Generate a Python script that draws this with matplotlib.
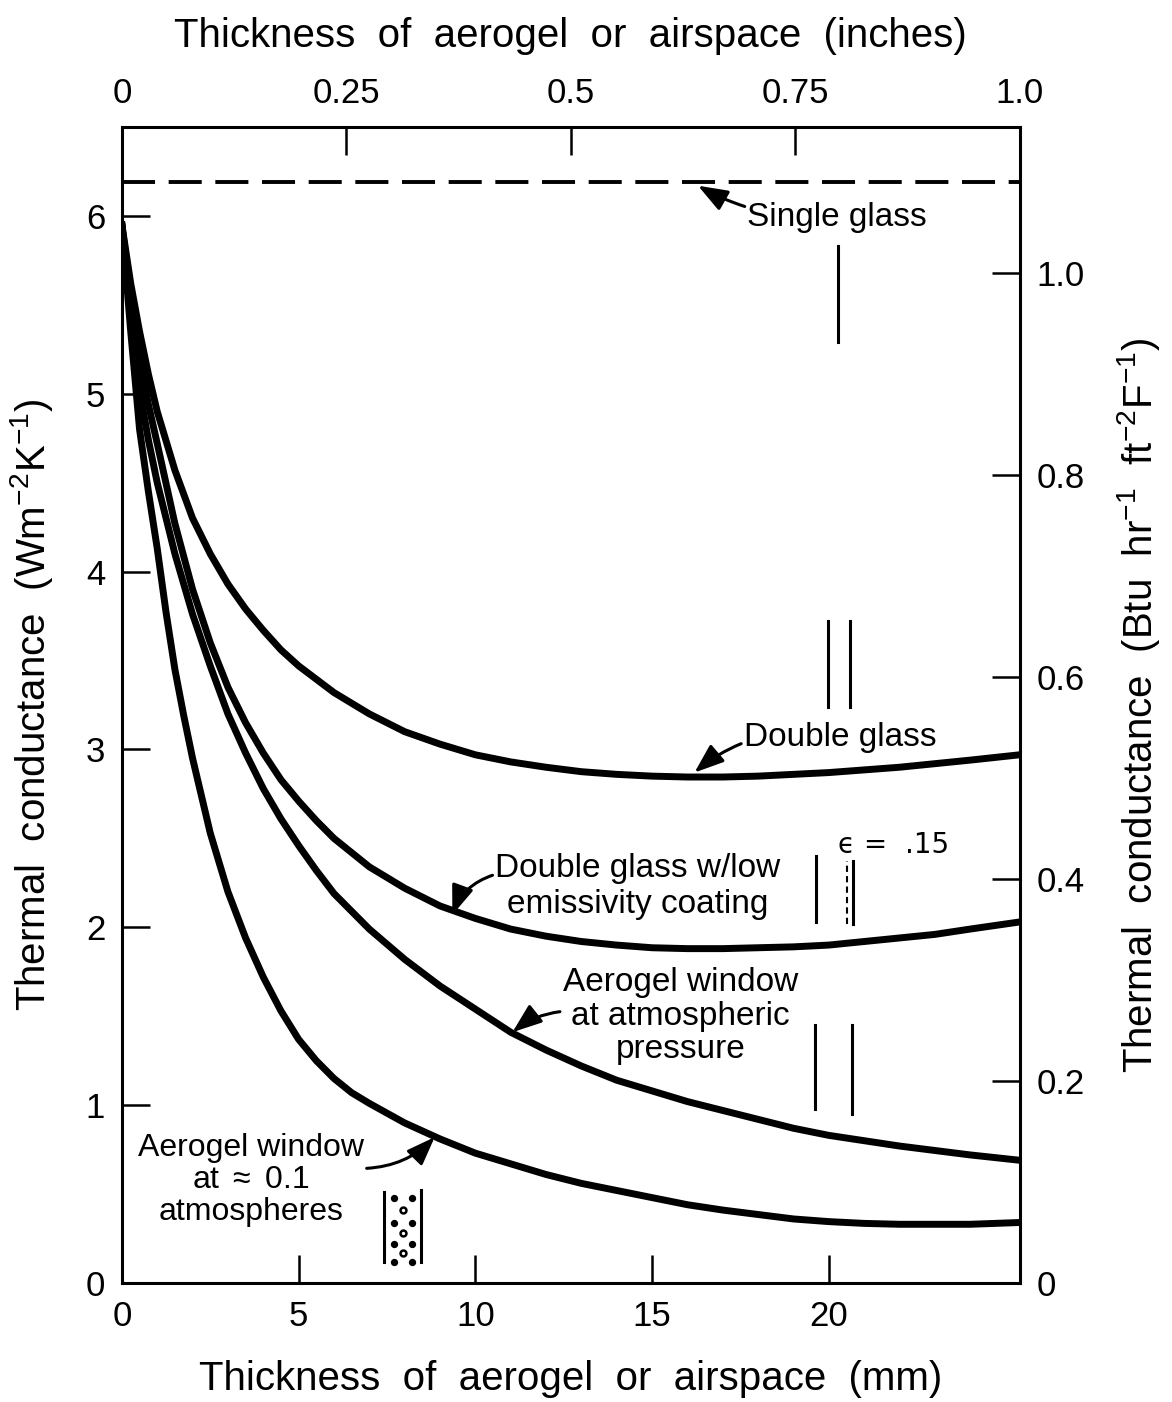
import numpy as np
import matplotlib.pyplot as plt

# thickness (mm) and conductance (W m-2 K-1)
x_dbl = [0, 0.25, 0.5, 0.75, 1, 1.5, 2, 2.5, 3, 3.5, 4, 4.5, 5, 6, 7, 8, 9, 10, 11, 12, 13, 14, 15, 16,
         17, 18, 19, 20, 21, 22, 23, 24, 25.4]
y_dbl = [5.95, 5.62, 5.35, 5.11, 4.9, 4.57, 4.3, 4.1, 3.93, 3.79, 3.67, 3.56, 3.47, 3.32, 3.2, 3.1, 3.03, 2.97,
         2.93, 2.9, 2.875, 2.86, 2.85, 2.845, 2.845, 2.85, 2.86, 2.87, 2.885, 2.9, 2.92, 2.94, 2.97]

x_lowe = [0, 0.25, 0.5, 0.75, 1, 1.5, 2, 2.5, 3, 3.5, 4, 4.5, 5, 5.5, 6, 7, 8, 9, 10, 11, 12, 13, 14, 15,
          16, 17, 18, 19, 20, 21, 22, 23, 24, 25.4]
y_lowe = [5.95, 5.55, 5.2, 4.94, 4.72, 4.27, 3.9, 3.6, 3.35, 3.15, 2.98, 2.83, 2.71, 2.6, 2.5, 2.34, 2.22, 2.12,
          2.05, 1.99, 1.95, 1.92, 1.9, 1.885, 1.88, 1.88, 1.885, 1.89, 1.9, 1.92, 1.94, 1.96, 1.99, 2.03]

x_atm = [0, 0.25, 0.5, 0.75, 1, 1.5, 2, 2.5, 3, 3.5, 4, 4.5, 5, 5.5, 6, 7, 8, 9, 10, 11, 12, 13, 14, 15,
         16, 17, 18, 19, 20, 21, 22, 23, 24, 25.4]
y_atm = [5.95, 5.45, 5.02, 4.74, 4.5, 4.1, 3.76, 3.47, 3.2, 2.98, 2.78, 2.61, 2.46, 2.32, 2.19, 1.99, 1.82, 1.67,
         1.54, 1.41, 1.31, 1.22, 1.14, 1.08, 1.02, 0.97, 0.92, 0.87, 0.83, 0.8, 0.77, 0.745, 0.72, 0.69]

x_low = [0, 0.25, 0.5, 0.75, 1, 1.25, 1.5, 1.75, 2, 2.5, 3, 3.5, 4, 4.5, 5, 5.5, 6, 6.5, 7, 8, 9, 10, 11,
         12, 13, 14, 15, 16, 17, 18, 19, 20, 21, 22, 23, 24, 25.4]
y_low = [5.95, 5.35, 4.8, 4.45, 4.13, 3.77, 3.45, 3.19, 2.95, 2.53, 2.2, 1.94, 1.72, 1.53, 1.37, 1.25, 1.15,
         1.07, 1.01, 0.9, 0.81, 0.73, 0.67, 0.61, 0.56, 0.52, 0.48, 0.44, 0.41, 0.385, 0.36, 0.345, 0.335,
         0.33, 0.33, 0.33, 0.34]

single_glass = 6.19

W_PER_BTU = 5.678
MM_PER_IN = 25.4

plt.rcParams['font.family'] = ['Liberation Sans', 'DejaVu Sans']
plt.rcParams['mathtext.fontset'] = 'custom'
plt.rcParams['mathtext.rm'] = 'Liberation Sans'
plt.rcParams['mathtext.it'] = 'Liberation Sans'

fig = plt.figure(figsize=(11.72, 14.02), dpi=100)
ax = fig.add_axes([0.104, 0.0849, 0.766, 0.8245])

lw = 5
for xs, ys in [(x_dbl, y_dbl), (x_lowe, y_lowe), (x_atm, y_atm), (x_low, y_low)]:
    ax.plot(xs, ys, 'k', lw=lw, solid_joinstyle='round')
ax.axhline(single_glass, color='k', lw=2.8, dashes=(8.5, 3.5))

ax.set_xlim(0, MM_PER_IN)
ax.set_ylim(0, 6.5)
ax.set_xticks([0, 5, 10, 15, 20])
ax.set_yticks([0, 1, 2, 3, 4, 5, 6])

tick_kw = dict(direction='in', length=20, width=1.8, labelsize=25, pad=12)
ax.tick_params(axis='both', **tick_kw)
for s in ax.spines.values():
    s.set_linewidth(2.2)

top = ax.secondary_xaxis('top', functions=(lambda v: v / MM_PER_IN, lambda v: v * MM_PER_IN))
top.set_xticks([0, 0.25, 0.5, 0.75, 1.0])
top.set_xticklabels(['0', '0.25', '0.5', '0.75', '1.0'])
top.tick_params(**tick_kw)
top.set_xlabel('Thickness  of  aerogel  or  airspace  (inches)', fontsize=29, labelpad=22)

right = ax.secondary_yaxis('right', functions=(lambda v: v / W_PER_BTU, lambda v: v * W_PER_BTU))
right.set_yticks([0, 0.2, 0.4, 0.6, 0.8, 1.0])
right.set_yticklabels(['0', '0.2', '0.4', '0.6', '0.8', '1.0'])
right.tick_params(**tick_kw)
right.set_ylabel('Thermal  conductance  (Btu  hr$^{-1}$  ft$^{-2}$F$^{-1}$)', fontsize=29, labelpad=22)

ax.set_xlabel('Thickness  of  aerogel  or  airspace  (mm)', fontsize=29, labelpad=20)
ax.set_ylabel('Thermal  conductance  (Wm$^{-2}$K$^{-1}$)', fontsize=29, labelpad=22)

# labels with curved arrows
arr = dict(arrowstyle='-|>,head_length=0.75,head_width=0.28', color='k', lw=2.2, shrinkA=0, shrinkB=0)
fs = 24
ax.annotate('Single glass', xy=(16.3, 6.17), xytext=(17.7, 5.99), fontsize=fs, va='center', ha='left',
            arrowprops=dict(arr, connectionstyle='arc3,rad=-0.15'))
ax.annotate('Double glass', xy=(16.2, 2.87), xytext=(17.6, 3.07), fontsize=fs, va='center', ha='left',
            arrowprops=dict(arr, connectionstyle='arc3,rad=0.25'))
ax.annotate('Double glass w/low\nemissivity coating', xy=(9.35, 2.07), xytext=(14.6, 2.23), fontsize=fs,
            va='center', ha='center', linespacing=1.2,
            arrowprops=dict(arr, connectionstyle='arc3,rad=0.25', relpos=(0.0, 0.68)))
ax.annotate('Aerogel window\nat atmospheric\npressure', xy=(11.05, 1.41), xytext=(15.8, 1.5), fontsize=fs,
            va='center', ha='center', linespacing=1.1,
            arrowprops=dict(arr, connectionstyle='arc3,rad=0.2', relpos=(0.08, 0.55)))
ax.annotate('Aerogel window\nat $\\approx$ 0.1\natmospheres', xy=(8.85, 0.82), xytext=(3.65, 0.58), fontsize=23,
            va='center', ha='center', linespacing=1.1,
            arrowprops=dict(arr, connectionstyle='arc3,rad=0.2', relpos=(1.0, 0.62)))
ax.text(20.25, 2.46, '\u03f5 =  .15', fontsize=20, va='center', ha='left',
        family=['DejaVu Sans', 'Liberation Sans'])

# window cross-section glyphs
gl = dict(color='k', lw=2.2)
ax.plot([20.25, 20.25], [5.29, 5.83], **gl)
ax.plot([19.97, 19.97], [3.24, 3.72], **gl)
ax.plot([20.6, 20.6], [3.24, 3.72], **gl)
ax.plot([19.65, 19.65], [2.03, 2.40], **gl)
ax.plot([20.52, 20.52], [2.02, 2.37], color='k', lw=1.5, dashes=(3, 2))
ax.plot([20.68, 20.68], [2.02, 2.37], **gl)
ax.plot([19.6, 19.6], [0.98, 1.45], **gl)
ax.plot([20.65, 20.65], [0.95, 1.45], **gl)
ax.plot([7.42, 7.42], [0.12, 0.51], **gl)
ax.plot([8.46, 8.46], [0.12, 0.52], **gl)
dot_x = [7.7, 8.2, 7.7, 8.2, 7.7, 8.2, 7.7, 8.2]
dot_y = [0.48, 0.48, 0.34, 0.34, 0.22, 0.22, 0.12, 0.12]
ax.scatter(dot_x, dot_y, s=18, facecolor='k', edgecolor='k', linewidth=1, zorder=3)
mid_x = [7.95, 7.95, 7.95]
mid_y = [0.41, 0.28, 0.17]
ax.scatter(mid_x, mid_y, s=18, facecolor='white', edgecolor='k', linewidth=1.8, zorder=3)

fig.savefig('out.png', dpi=100)
